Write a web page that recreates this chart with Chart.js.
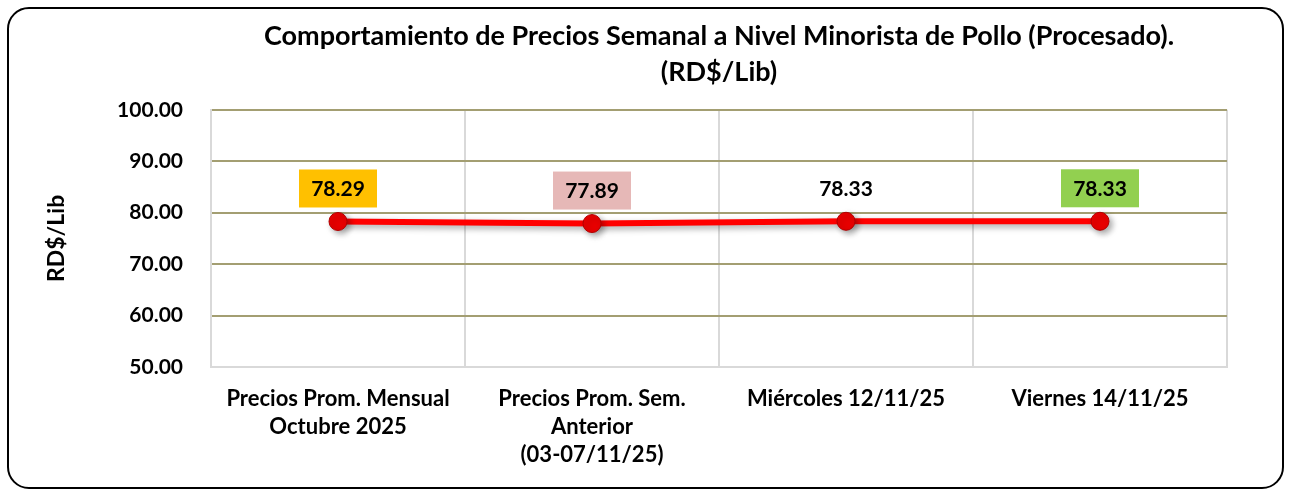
<!DOCTYPE html>
<html>
<head>
<meta charset="utf-8">
<script src="https://cdn.jsdelivr.net/npm/chart.js@4/dist/chart.umd.min.js"></script>
<style>
	html, body { margin: 0; padding: 0; background: #fff; }
	#wrap { position: relative; width: 1289px; height: 495px; }
	#frame {
		position: absolute; left: 7px; top: 7px; width: 1273px; height: 478px;
		border: 2px solid #000; border-radius: 22px; pointer-events: none;
	}
</style>
</head>
<body>
<div id="wrap">
	<canvas id="chart" width="1289" height="495"></canvas>
	<div id="frame"></div>
</div>
<script>
"use strict";

const fontFamily = "Lato, 'Liberation Sans', sans-serif";
const gridColor = "#a39e72";
const axisColor = "#d9d9d9";

const categories = [
	["Precios Prom. Mensual", "Octubre 2025"],
	["Precios Prom. Sem.", "Anterior", "(03-07/11/25)"],
	"Miércoles 12/11/25",
	"Viernes 14/11/25",
];
const prices = [78.29, 77.89, 78.33, 78.33];
const labelBoxColors = ["#ffc000", "#e6b8b7", null, "#92d050"];


const lineShadow = {
	id: "lineShadow",
	beforeDatasetDraw(chart) {
		const ctx = chart.ctx;
		ctx.save();
		ctx.shadowColor = "rgba(0,0,0,0.35)";
		ctx.shadowBlur = 6;
		ctx.shadowOffsetX = 3;
		ctx.shadowOffsetY = 3;
	},
	afterDatasetDraw(chart) {
		chart.ctx.restore();
	},
};


const valueLabels = {
	id: "valueLabels",
	afterDatasetsDraw(chart) {
		const ctx = chart.ctx;
		const meta = chart.getDatasetMeta(0);
		ctx.save();
		ctx.font = "bold 21px " + fontFamily;
		ctx.textAlign = "center";
		ctx.textBaseline = "middle";
		meta.data.forEach((pt, i) => {
			const x = pt.x;
			const y = pt.y - 33;
			const bg = labelBoxColors[i];
			if (bg) {
				ctx.fillStyle = bg;
				ctx.fillRect(x - 39, y - 19, 78, 38);
			}
			ctx.fillStyle = "#000";
			ctx.fillText(prices[i].toFixed(2), x, y + 1);
		});
		ctx.restore();
	},
};


const ctx = document.getElementById("chart").getContext("2d");

new Chart(ctx, {
	type: "line",
	data: {
		labels: categories,
		datasets: [{
			data: prices,
			borderColor: "#ff0000",
			borderWidth: 6,
			pointRadius: 9,
			pointBackgroundColor: "#e80000",
			pointBorderColor: "#b00000",
			pointBorderWidth: 1,
			tension: 0,
		}],
	},
	options: {
		responsive: false,
		animation: false,
		layout: {
			padding: { left: 20, right: 62, top: 18, bottom: 10 },
		},
		plugins: {
			legend: { display: false },
			tooltip: { enabled: false },
			title: {
				display: true,
				fullSize: false,
				text: ["Comportamiento de Precios Semanal a Nivel Minorista de Pollo (Procesado).", "(RD$/Lib)"],
				color: "#000",
				font: { family: fontFamily, size: 27, weight: "bold", lineHeight: 1.33 },
				padding: { top: 0, bottom: 20 },
			},
		},
		scales: {
			x: {
				offset: true,
				grid: {
					offset: true,
					color: axisColor,
					lineWidth: 2,
					drawTicks: false,
				},
				border: { color: axisColor, width: 2 },
				ticks: {
					color: "#000",
					padding: 18,
					maxRotation: 0,
					font: { family: fontFamily, size: 22, weight: "bold", lineHeight: 1.27 },
				},
				afterFit(scale) {
					scale.height = 118;
				},
			},
			y: {
				min: 50,
				max: 100,
				grid: {
					color: gridColor,
					lineWidth: 2,
					drawTicks: false,
				},
				border: { color: axisColor, width: 2 },
				ticks: {
					stepSize: 10,
					color: "#000",
					padding: 28,
					font: { family: fontFamily, size: 21, weight: "bold" },
					callback: value => value.toFixed(2),
				},
				title: {
					display: true,
					text: "RD$/Lib",
					color: "#000",
					font: { family: fontFamily, size: 23, weight: "bold" },
					padding: { top: 23, bottom: 0 },
				},
				afterFit(scale) {
					scale.width = 191;
				},
			},
		},
	},
	plugins: [lineShadow, valueLabels],
});
</script>
</body>
</html>
